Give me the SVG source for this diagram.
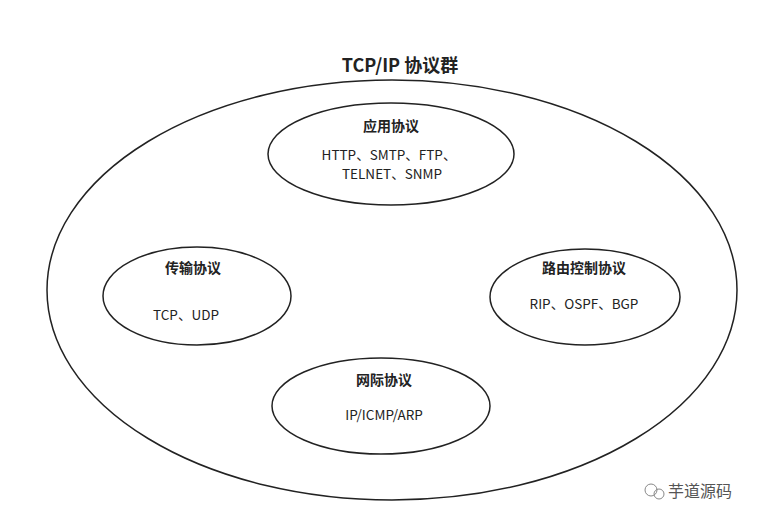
<svg xmlns="http://www.w3.org/2000/svg" width="768" height="528" viewBox="0 0 768 528">
<style>
.e{fill:none;stroke:#222;stroke-width:1.5}
.t{font-family:"Noto Sans CJK SC","Noto Sans",sans-serif;fill:#222;text-anchor:middle}
.b{font-weight:bold;font-size:14px}
.n{font-size:13.5px}
</style>
<rect width="768" height="528" fill="#fff"/>
<text class="t" x="400" y="72" style="font-weight:bold;font-size:18px">TCP/IP 协议群</text>
<g id="outer"><ellipse class="e" cx="392" cy="290" rx="345" ry="210"/></g>
<g id="app"><ellipse class="e" cx="391" cy="154" rx="123" ry="51"/>
<text class="t b" x="391" y="131">应用协议</text>
<text class="t n" x="389" y="160">HTTP、SMTP、FTP、</text>
<text class="t n" x="392" y="179">TELNET、SNMP</text></g>
<g id="transport"><ellipse class="e" cx="197" cy="296" rx="94" ry="49"/>
<text class="t b" x="193" y="273">传输协议</text>
<text class="t n" x="186" y="320">TCP、UDP</text></g>
<g id="routing"><ellipse class="e" cx="585" cy="297" rx="95" ry="48"/>
<text class="t b" x="584" y="273">路由控制协议</text>
<text class="t n" x="584" y="309">RIP、OSPF、BGP</text></g>
<g id="internet"><ellipse class="e" cx="381" cy="406" rx="109" ry="48"/>
<text class="t b" x="384" y="385">网际协议</text>
<text class="t n" x="384" y="420">IP/ICMP/ARP</text></g>
<g id="connectors"/>
<g id="watermark"><circle cx="651" cy="490" r="6" fill="none" stroke="#888"/><circle cx="659" cy="494" r="5" fill="none" stroke="#888"/>
<text x="668" y="497" style="font-family:'Noto Sans CJK SC',sans-serif;font-size:16px;fill:#555">芋道源码</text></g>
</svg>
